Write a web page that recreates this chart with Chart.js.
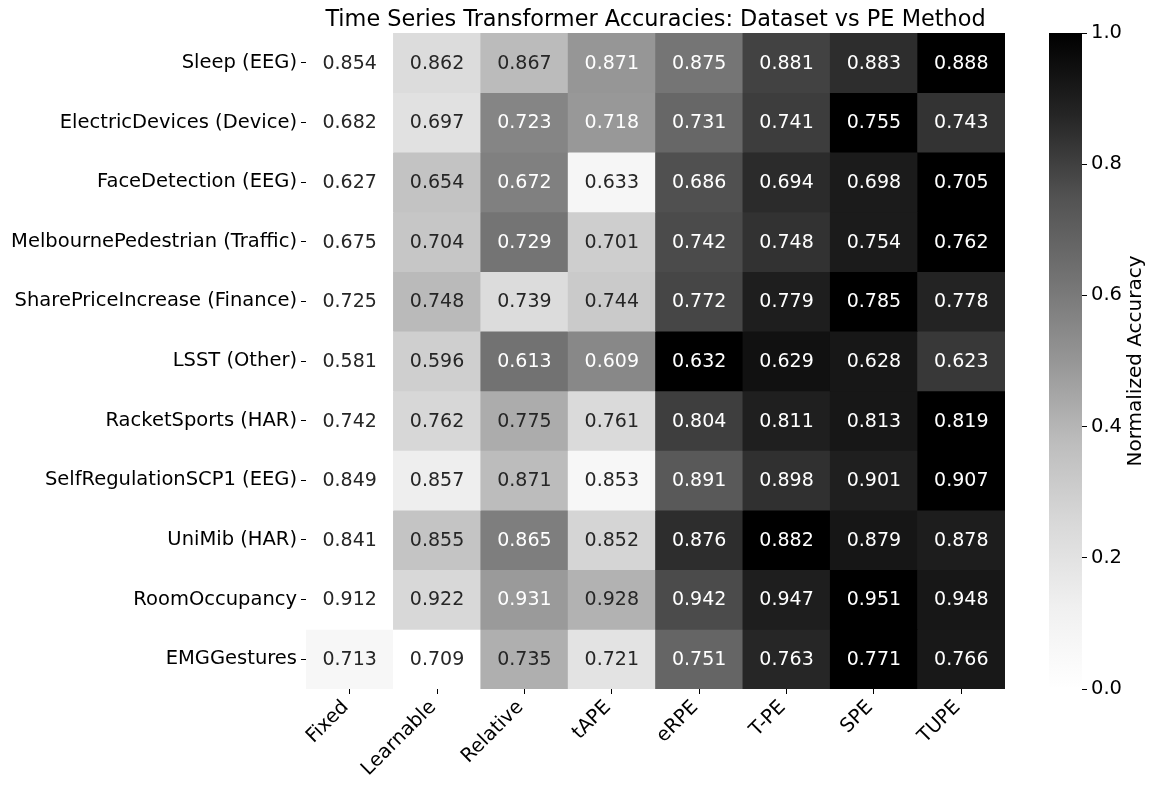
<!DOCTYPE html>
<html>
<head>
<meta charset="utf-8">
<script src="https://cdn.jsdelivr.net/npm/chart.js@4.4.1/dist/chart.umd.min.js"></script>
<style>
  body { margin: 0; background: #fff; }
  #wrap { position: relative; width: 1156px; height: 790px; }
  #heat { position: absolute; left: 0; top: 0; }
  #cbar { position: absolute; left: 1010px; top: 0; }
</style>
</head>
<body>
<div id="wrap">
  <canvas id="heat" width="1156" height="790"></canvas>
  <canvas id="cbar" width="146" height="790"></canvas>
</div>
<script>
// data
var methods = ["Fixed", "Learnable", "Relative", "tAPE", "eRPE", "T-PE", "SPE", "TUPE"];
var datasetNames = [
  "Sleep (EEG)",
  "ElectricDevices (Device)",
  "FaceDetection (EEG)",
  "MelbournePedestrian (Traffic)",
  "SharePriceIncrease (Finance)",
  "LSST (Other)",
  "RacketSports (HAR)",
  "SelfRegulationSCP1 (EEG)",
  "UniMib (HAR)",
  "RoomOccupancy",
  "EMGGestures"
];
var sleep      = [0.854, 0.862, 0.867, 0.871, 0.875, 0.881, 0.883, 0.888];
var electric   = [0.682, 0.697, 0.723, 0.718, 0.731, 0.741, 0.755, 0.743];
var face       = [0.627, 0.654, 0.672, 0.633, 0.686, 0.694, 0.698, 0.705];
var melbourne  = [0.675, 0.704, 0.729, 0.701, 0.742, 0.748, 0.754, 0.762];
var sharePrice = [0.725, 0.748, 0.739, 0.744, 0.772, 0.779, 0.785, 0.778];
var lsst       = [0.581, 0.596, 0.613, 0.609, 0.632, 0.629, 0.628, 0.623];
var racket     = [0.742, 0.762, 0.775, 0.761, 0.804, 0.811, 0.813, 0.819];
var selfReg    = [0.849, 0.857, 0.871, 0.853, 0.891, 0.898, 0.901, 0.907];
var unimib     = [0.841, 0.855, 0.865, 0.852, 0.876, 0.882, 0.879, 0.878];
var roomOcc    = [0.912, 0.922, 0.931, 0.928, 0.942, 0.947, 0.951, 0.948];
var emg        = [0.713, 0.709, 0.735, 0.721, 0.751, 0.763, 0.771, 0.766];
var accRows = [sleep, electric, face, melbourne, sharePrice, lsst, racket, selfReg, unimib, roomOcc, emg];
var cbTicks = [0, 0.2, 0.4, 0.6, 0.8, 1.0];

// matplotlib "Greys" colormap stops
var greys = [1.0, 0.941, 0.851, 0.741, 0.588, 0.451, 0.322, 0.145, 0.0];

function greyAt(t) {
  t = Math.max(0, Math.min(1, t));
  var p = t * (greys.length - 1);
  var i = Math.min(Math.floor(p), greys.length - 2);
  var f = p - i;
  return greys[i] + (greys[i + 1] - greys[i]) * f;
}
function rgbStr(g) {
  var v = Math.round(g * 255);
  return "rgb(" + v + "," + v + "," + v + ")";
}
function textColorFor(g) {
  // same rule as seaborn annotations
  var lin = g <= 0.03928 ? g / 12.92 : Math.pow((g + 0.055) / 1.055, 2.4);
  return lin > 0.408 ? "#262626" : "#ffffff";
}
function normRow(row) {
  var mn = Math.min.apply(null, row), mx = Math.max.apply(null, row);
  return row.map(v => (v - mn) / (mx - mn));
}

var FONT = "'DejaVu Sans', sans-serif";
var TICK_SIZE = 19.5;

var heatDatasets = accRows.map(function (row, r) {
  var n = normRow(row);
  return {
    label: datasetNames[r],
    data: methods.map(() => 1),
    backgroundColor: n.map(t => rgbStr(greyAt(t))),
    borderWidth: 0,
    barPercentage: 1,
    categoryPercentage: 1,
    stack: "rows"
  };
});

var cellText = {
  id: "cellText",
  afterDatasetsDraw(chart) {
    var ctx = chart.ctx;
    ctx.save();
    ctx.font = "19px " + FONT;
    ctx.textAlign = "center";
    ctx.textBaseline = "middle";
    accRows.forEach(function (row, r) {
      var n = normRow(row);
      var meta = chart.getDatasetMeta(r);
      meta.data.forEach(function (el, c) {
        var p = el.getCenterPoint();
        ctx.fillStyle = textColorFor(greyAt(n[c]));
        ctx.fillText(row[c].toFixed(3), p.x, p.y + 1);
      });
    });
    // title over the heatmap
    var a = chart.chartArea;
    ctx.fillStyle = "#000";
    ctx.font = "22.4px " + FONT;
    ctx.textBaseline = "alphabetic";
    ctx.fillText("Time Series Transformer Accuracies: Dataset vs PE Method", (a.left + a.right) / 2, 26);
    ctx.restore();
  }
};

new Chart("heat", {
  type: "bar",
  data: { labels: methods, datasets: heatDatasets },
  options: {
    responsive: false,
    animation: false,
    layout: { padding: { left: 0, top: 33, right: 151, bottom: 0 } },
    plugins: { legend: { display: false }, tooltip: { enabled: false } },
    scales: {
      x: {
        stacked: true,
        grid: { offset: false, drawOnChartArea: false, drawTicks: true, tickLength: 5, color: "#000", lineWidth: 1 },
        border: { display: false },
        ticks: { color: "#000", font: { family: FONT, size: TICK_SIZE }, maxRotation: 45, minRotation: 45, padding: 2, labelOffset: -4 },
        afterFit(scale) { scale.height = 101; }
      },
      y: {
        stacked: true,
        reverse: true,
        min: 0,
        max: datasetNames.length,
        grid: { drawOnChartArea: false, drawTicks: true, tickLength: 5, color: "#000", lineWidth: 1 },
        border: { display: false },
        afterBuildTicks(scale) {
          scale.ticks = datasetNames.map((_, i) => ({ value: i + 0.5 }));
        },
        ticks: {
          color: "#000",
          font: { family: FONT, size: TICK_SIZE },
          padding: 4,
          autoSkip: false,
          callback: v => datasetNames[Math.floor(v)]
        },
        afterFit(scale) { scale.width = 306; }
      }
    }
  },
  plugins: [cellText]
});

// colour bar label, reads bottom to top
var cbLabel = {
  id: "cbLabel",
  afterDraw(chart) {
    var a = chart.chartArea, ctx = chart.ctx;
    ctx.save();
    ctx.translate(126, (a.top + a.bottom) / 2);
    ctx.rotate(-Math.PI / 2);
    ctx.fillStyle = "#000";
    ctx.font = "20px " + FONT;
    ctx.textAlign = "center";
    ctx.textBaseline = "middle";
    ctx.fillText("Normalized Accuracy", 0, 0);
    ctx.restore();
  }
};

new Chart("cbar", {
  type: "bar",
  data: {
    labels: ["cb"],
    datasets: [{
      data: [[0, 1]],
      borderWidth: 0,
      barPercentage: 1,
      categoryPercentage: 1,
      backgroundColor(context) {
        var a = context.chart.chartArea;
        if (!a) return "#888";
        var g = context.chart.ctx.createLinearGradient(0, a.bottom, 0, a.top);
        greys.forEach((v, i) => g.addColorStop(i / (greys.length - 1), rgbStr(v)));
        return g;
      }
    }]
  },
  options: {
    responsive: false,
    animation: false,
    layout: { padding: { left: 39, top: 33, right: 0, bottom: 101 } },
    plugins: { legend: { display: false }, tooltip: { enabled: false } },
    scales: {
      x: { display: false },
      y: {
        position: "right",
        min: 0,
        max: 1,
        grid: { drawOnChartArea: false, drawTicks: true, tickLength: 5, color: "#000" },
        border: { display: false },
        afterBuildTicks(scale) { scale.ticks = cbTicks.map(v => ({ value: v })); },
        ticks: { color: "#000", font: { family: FONT, size: TICK_SIZE }, padding: 4, callback: v => v.toFixed(1) },
        afterFit(scale) { scale.width = 74; }
      }
    }
  },
  plugins: [cbLabel]
});
</script>
</body>
</html>
